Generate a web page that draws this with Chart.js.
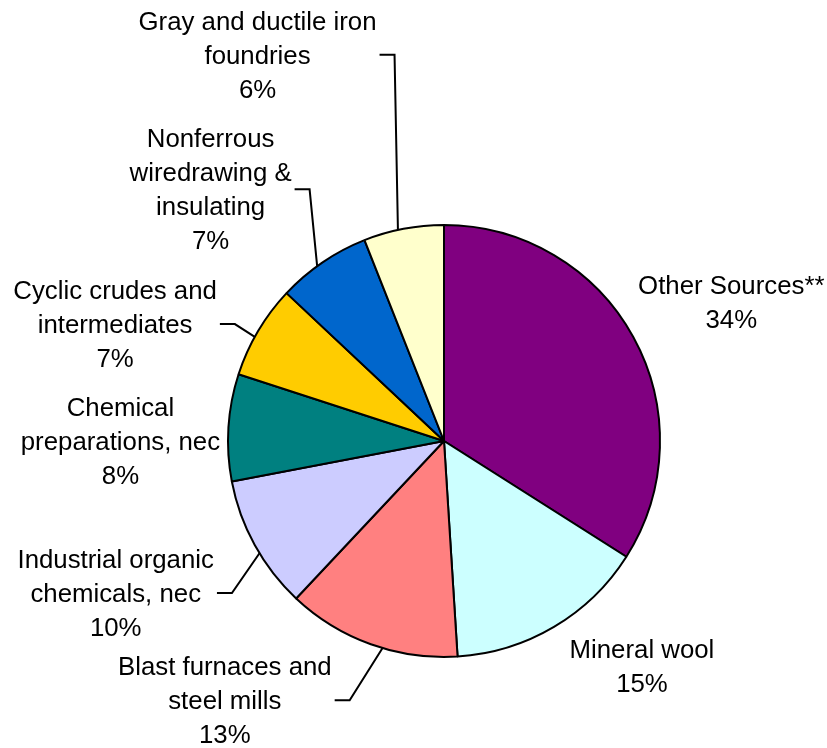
<!DOCTYPE html>
<html>
<head>
<meta charset="utf-8">
<script src="https://cdn.jsdelivr.net/npm/chart.js@4/dist/chart.umd.min.js"></script>
<style>
  html, body { margin: 0; padding: 0; background: #fff; }
  #wrap { width: 827px; height: 748px; }
</style>
</head>
<body>
<div id="wrap"><canvas id="pieChart" width="827" height="748"></canvas></div>
<script>
const sources = [
  'Other Sources**',
  'Mineral wool',
  'Blast furnaces and\nsteel mills',
  'Industrial organic\nchemicals, nec',
  'Chemical\npreparations, nec',
  'Cyclic crudes and\nintermediates',
  'Nonferrous\nwiredrawing &\ninsulating',
  'Gray and ductile iron\nfoundries'
];
const shares = [34, 15, 13, 10, 8, 7, 7, 6];
const sliceColors = ['#800080', '#CCFFFF', '#FF8080', '#CCCCFF', '#008080', '#FFCC00', '#0066CC', '#FFFFCC'];

// label placement: offset of the text block centre from the slice's mid edge point
const labelOffsets = [[98, -33], [88, 41], [-146, 58], [-139, 50], [-108, 15], [-143, -5], [-112, -71], [-146, -172]];
const hasLeader = [false, false, true, true, false, true, true, true];

const FONT = '25.8px "Liberation Sans", Arial, sans-serif';
const LINE_H = 34;

const pieLabels = {
  id: 'pieLabels',
  afterDatasetsDraw(chart) {
    const ctx = chart.ctx;
    const arcs = chart.getDatasetMeta(0).data;
    ctx.save();
    ctx.font = FONT;
    ctx.fillStyle = '#000';
    ctx.textAlign = 'center';
    ctx.textBaseline = 'middle';
    arcs.forEach((arc, i) => {
      const p = arc.getProps(['x', 'y', 'startAngle', 'endAngle', 'outerRadius'], true);
      const mid = (p.startAngle + p.endAngle) / 2;
      const ex = p.x + Math.cos(mid) * p.outerRadius;
      const ey = p.y + Math.sin(mid) * p.outerRadius;
      const lines = chart.data.labels[i].split('\n').concat(shares[i] + '%');
      const cx = ex + labelOffsets[i][0];
      const cy = ey + labelOffsets[i][1];
      const top = cy - (lines.length - 1) * LINE_H / 2;
      let widest = 0;
      lines.forEach((t, k) => {
        ctx.fillText(t, cx, top + k * LINE_H);
        widest = Math.max(widest, ctx.measureText(t).width);
      });
      if (hasLeader[i]) {
        // leader meets the rim a little before the slice middle
        const a = p.startAngle + (p.endAngle - p.startAngle) * 0.43;
        const ax = p.x + Math.cos(a) * p.outerRadius;
        const ay = p.y + Math.sin(a) * p.outerRadius;
        const hx = cx + widest / 2 + 3;
        const hy = cy - 2;
        ctx.beginPath();
        ctx.moveTo(hx, hy);
        ctx.lineTo(hx + 15, hy);
        ctx.lineTo(ax, ay);
        ctx.strokeStyle = '#000';
        ctx.lineWidth = 2;
        ctx.stroke();
      }
    });
    ctx.restore();
  }
};

new Chart('pieChart', {
  type: 'pie',
  data: {
    labels: sources,
    datasets: [{
      data: shares,
      backgroundColor: sliceColors,
      borderColor: '#000',
      borderWidth: 2
    }]
  },
  options: {
    responsive: false,
    animation: false,
    layout: { padding: { left: 227, top: 224, right: 166, bottom: 90 } },
    plugins: {
      legend: { display: false },
      tooltip: { enabled: false }
    }
  },
  plugins: [pieLabels]
});
</script>
</body>
</html>
